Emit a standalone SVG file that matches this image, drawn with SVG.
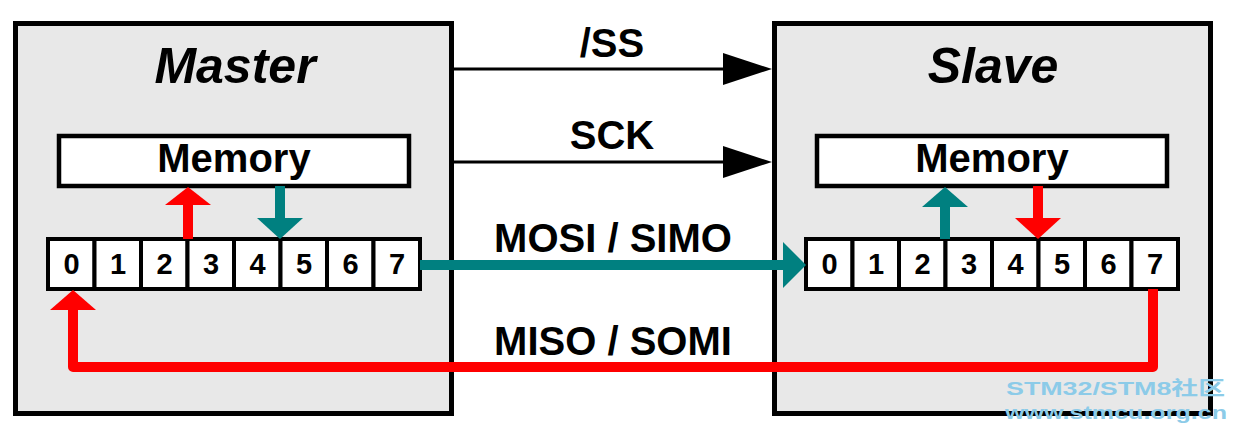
<svg xmlns="http://www.w3.org/2000/svg" width="1237" height="433" viewBox="0 0 1237 433">
<style>
.box{fill:#e8e8e8;stroke:#000;stroke-width:5}
.mem{fill:#fff;stroke:#000;stroke-width:4.5}
.cell{fill:#fff;stroke:#000;stroke-width:4}
.title{font-family:"Liberation Sans",Arial,sans-serif;font-weight:bold;font-style:italic;font-size:50px;text-anchor:middle;fill:#000}
.t40{font-family:"Liberation Sans",Arial,sans-serif;font-weight:bold;font-size:40px;text-anchor:middle;fill:#000}
.num{font-family:"Liberation Sans",Arial,sans-serif;font-weight:bold;font-size:29px;text-anchor:middle;fill:#000}
.blk{stroke:#000;stroke-width:3;fill:none}
.red{stroke:#ff0000;stroke-width:10;fill:none;stroke-linejoin:round}
.teal{stroke:#008080;stroke-width:10;fill:none}
.hred{fill:#ff0000}
.hteal{fill:#008080}
.hblk{fill:#000}
.wm{font-family:"Liberation Sans","Noto Sans CJK SC",sans-serif;font-weight:bold;font-size:19px;fill:#8ccbe8}
</style>
<rect width="1237" height="433" fill="#fff"/>
<g id="master">
<rect class="box" x="15.5" y="23.5" width="436" height="390"/>
<text class="title" x="235" y="83">Master</text>
<g id="master-memory">
<rect class="mem" x="59" y="136" width="350" height="50"/>
<text class="t40" x="234" y="172">Memory</text>
</g>
<g id="master-register">
<rect class="cell" x="48" y="239" width="46.5" height="50"/>
<rect class="cell" x="94.5" y="239" width="46.5" height="50"/>
<rect class="cell" x="141" y="239" width="46.5" height="50"/>
<rect class="cell" x="187.5" y="239" width="46.5" height="50"/>
<rect class="cell" x="234" y="239" width="46.5" height="50"/>
<rect class="cell" x="280.5" y="239" width="46.5" height="50"/>
<rect class="cell" x="327" y="239" width="46.5" height="50"/>
<rect class="cell" x="373.5" y="239" width="46.5" height="50"/>
<text class="num" x="71.5" y="274">0</text>
<text class="num" x="118" y="274">1</text>
<text class="num" x="164.5" y="274">2</text>
<text class="num" x="211" y="274">3</text>
<text class="num" x="257.5" y="274">4</text>
<text class="num" x="304" y="274">5</text>
<text class="num" x="350.5" y="274">6</text>
<text class="num" x="397" y="274">7</text>
</g>
</g>
<g id="slave">
<rect class="box" x="774.5" y="23.5" width="436" height="390"/>
<text class="title" x="993" y="83">Slave</text>
<g id="slave-memory">
<rect class="mem" x="817" y="136" width="350" height="50"/>
<text class="t40" x="992" y="172">Memory</text>
</g>
<g id="slave-register">
<rect class="cell" x="806" y="239" width="46.5" height="50"/>
<rect class="cell" x="852.5" y="239" width="46.5" height="50"/>
<rect class="cell" x="899" y="239" width="46.5" height="50"/>
<rect class="cell" x="945.5" y="239" width="46.5" height="50"/>
<rect class="cell" x="992" y="239" width="46.5" height="50"/>
<rect class="cell" x="1038.5" y="239" width="46.5" height="50"/>
<rect class="cell" x="1085" y="239" width="46.5" height="50"/>
<rect class="cell" x="1131.5" y="239" width="46.5" height="50"/>
<text class="num" x="829.5" y="274">0</text>
<text class="num" x="876" y="274">1</text>
<text class="num" x="922.5" y="274">2</text>
<text class="num" x="969" y="274">3</text>
<text class="num" x="1015.5" y="274">4</text>
<text class="num" x="1062" y="274">5</text>
<text class="num" x="1108.5" y="274">6</text>
<text class="num" x="1155" y="274">7</text>
</g>
</g>
<g id="connectors">
<path class="blk" d="M454,69 H726"/>
<polygon class="hblk" points="723,53 772,69 723,85"/>
<path class="blk" d="M454,162 H726"/>
<polygon class="hblk" points="723,146 772,162 723,178"/>
<path class="teal" d="M420,265 H785"/>
<polygon class="hteal" points="783,242 806,265 783,288"/>
<path class="red" d="M1153,289 V367 H73 V308"/>
<polygon class="hred" points="50,310 73,290 96,310"/>
<path class="red" d="M188,239 V203"/>
<polygon class="hred" points="165,205 188,187 211,205"/>
<path class="teal" d="M280,186 V220"/>
<polygon class="hteal" points="257,218 280,239 303,218"/>
<path class="teal" d="M945,239 V205"/>
<polygon class="hteal" points="922,207 945,187 968,207"/>
<path class="red" d="M1038,186 V220"/>
<polygon class="hred" points="1015,218 1038,239 1061,218"/>
</g>
<g id="labels">
<text class="t40" x="612" y="57">/SS</text>
<text class="t40" x="612" y="149">SCK</text>
<text class="t40" x="613" y="252">MOSI / SIMO</text>
<text class="t40" x="613" y="355">MISO / SOMI</text>
</g>
<g id="watermark">
<text class="wm" x="1006" y="395" textLength="219" lengthAdjust="spacingAndGlyphs">STM32/STM8社区</text>
<text class="wm" x="1005" y="419" textLength="222" lengthAdjust="spacingAndGlyphs">www.stmcu.org.cn</text>
</g>
</svg>
